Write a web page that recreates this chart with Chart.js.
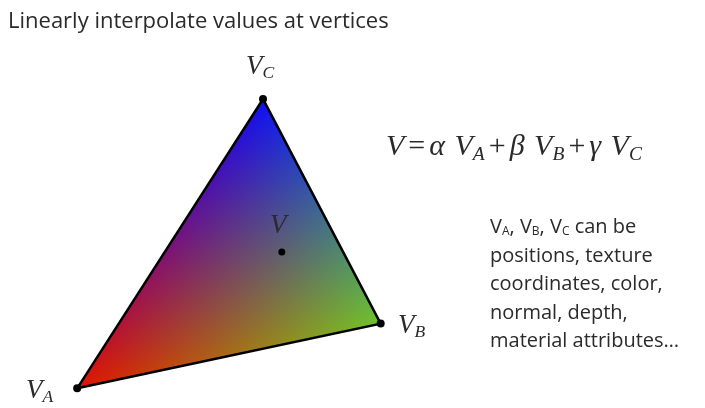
<!DOCTYPE html>
<html><head><meta charset="utf-8">
<script src="https://cdn.jsdelivr.net/npm/chart.js@4"></script>
<style>
body{margin:0;background:#fff;overflow:hidden}
#wrap{position:relative;width:705px;height:408px}
.t{position:absolute;color:#2a2a2a;white-space:nowrap}
.s{font-family:"Open Sans","Noto Sans",sans-serif}
.s sub{font-size:60%;line-height:0;vertical-align:-0.2em}
.m{font-family:"Liberation Serif","DejaVu Serif",serif;font-style:italic}
.m sub{font-size:65%;line-height:0;vertical-align:-0.25em}
.r{font-style:normal;margin:0 4px}
</style></head><body>
<div id="wrap">
<canvas id="c" width="705" height="408"></canvas>
<div class="t s" style="left:8px;top:4px;font-size:22px">Linearly interpolate values at vertices</div>
<div class="t m" style="left:246px;top:50px;font-size:27px">V<sub>C</sub></div>
<div class="t m" style="left:398px;top:309px;font-size:27px">V<sub>B</sub></div>
<div class="t m" style="left:26px;top:374px;font-size:27px">V<sub>A</sub></div>
<div class="t m" style="left:270px;top:209px;font-size:27px">V</div>
<div class="t m" style="left:386px;top:128px;font-size:30px;word-spacing:2px">V<span class="r">=</span>α V<sub>A</sub><span class="r">+</span>β V<sub>B</sub><span class="r">+</span>γ V<sub>C</sub></div>
<div class="t s" style="left:490px;top:212px;font-size:20px;line-height:28.5px">V<sub>A</sub>, V<sub>B</sub>, V<sub>C</sub> can be<br>positions, texture<br>coordinates, color,<br>normal, depth,<br>material attributes…</div>
</div>
<script>
// Triangle vertices (A, B, C, back to A) in slide coordinates
const vertX = [74, 381, 262, 74];
const vertY = [392, 326, 97, 392];
// vertex colours A (red), B (green), C (blue)
const vertColors = [[225, 20, 0], [110, 195, 45], [15, 15, 245]];
// interior point V
const pointX = [281];
const pointY = [253];

// fill triangle with barycentric colour interpolation
const baryFill = {
    id: 'baryFill',
    beforeDatasetsDraw(chart) {
        const xs = chart.scales.x, ys = chart.scales.y;
        const p = [0, 1, 2].map(i => [xs.getPixelForValue(vertX[i]), ys.getPixelForValue(vertY[i])]);
        const w = chart.width, h = chart.height;
        const off = document.createElement('canvas');
        off.width = w; off.height = h;
        const octx = off.getContext('2d');
        const img = octx.createImageData(w, h);
        const [a, b, c] = p;
        const den = (b[1] - c[1]) * (a[0] - c[0]) + (c[0] - b[0]) * (a[1] - c[1]);
        for (let y = 0; y < h; y++) {
            for (let x = 0; x < w; x++) {
                const px = x + 0.5, py = y + 0.5;
                const l1 = ((b[1] - c[1]) * (px - c[0]) + (c[0] - b[0]) * (py - c[1])) / den;
                const l2 = ((c[1] - a[1]) * (px - c[0]) + (a[0] - c[0]) * (py - c[1])) / den;
                const l3 = 1 - l1 - l2;
                if (l1 < 0 || l2 < 0 || l3 < 0) continue;
                const k = (y * w + x) * 4;
                for (let ch = 0; ch < 3; ch++) {
                    img.data[k + ch] = l1 * vertColors[0][ch] + l2 * vertColors[1][ch] + l3 * vertColors[2][ch];
                }
                img.data[k + 3] = 255;
            }
        }
        octx.putImageData(img, 0, 0);
        chart.ctx.drawImage(off, 0, 0, w, h);
    }
};

new Chart(document.getElementById('c'), {
    type: 'scatter',
    data: {
        datasets: [{
            data: vertX.slice(0, 3).map((x, i) => ({x: x, y: vertY[i]})),
            pointRadius: 4, pointBackgroundColor: '#000', pointBorderWidth: 0
        }, {
            type: 'line',
            data: vertX.map((x, i) => ({x: x, y: vertY[i]})),
            borderColor: '#000', borderWidth: 2.5, pointRadius: 0, fill: false, tension: 0
        }, {
            data: pointX.map((x, i) => ({x: x, y: pointY[i]})),
            pointRadius: 3.5, pointBackgroundColor: '#000', pointBorderWidth: 0
        }]
    },
    options: {
        responsive: false, animation: false,
        layout: {padding: 0},
        plugins: {legend: {display: false}, tooltip: {enabled: false}},
        scales: {
            x: {type: 'linear', min: 0, max: 705, display: false},
            y: {type: 'linear', min: 0, max: 408, reverse: true, display: false}
        }
    },
    plugins: [baryFill]
});
</script>
</body></html>
